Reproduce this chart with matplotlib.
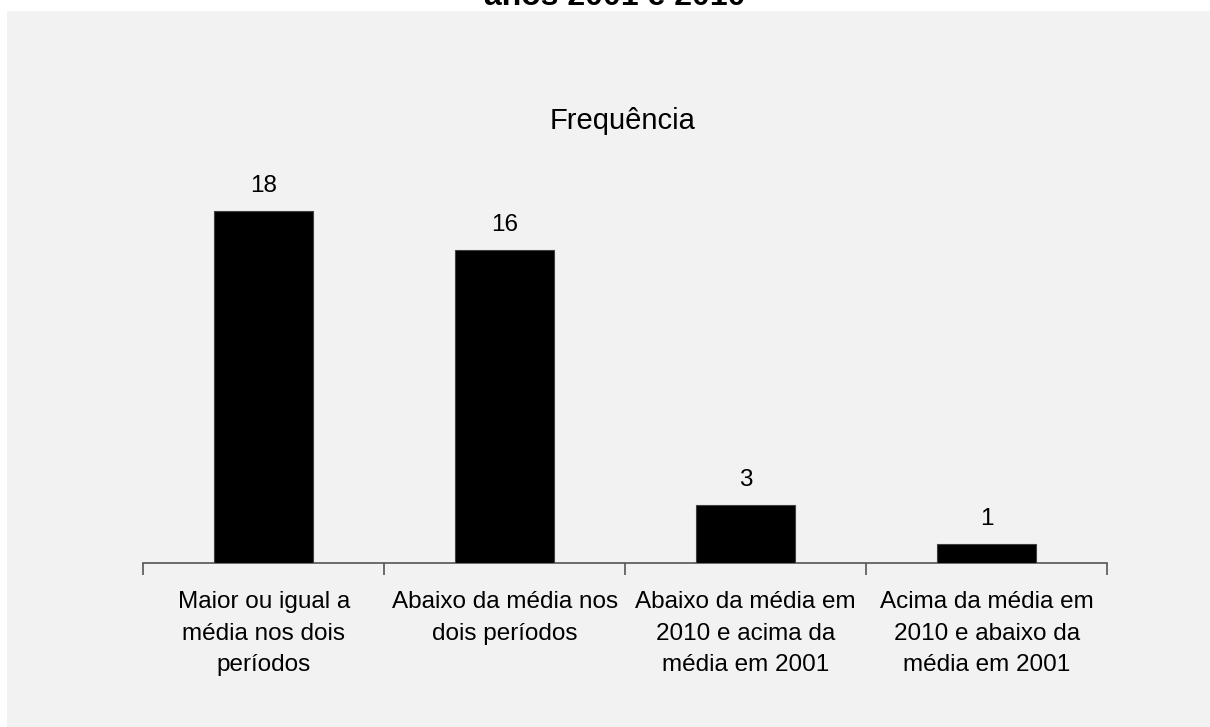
import matplotlib.pyplot as plt
from matplotlib.patches import Rectangle

# dados do gráfico
categorias = [
    "Maior ou igual a\nmédia nos dois\nperíodos",
    "Abaixo da média nos\ndois períodos",
    "Abaixo da média em\n2010 e acima da\nmédia em 2001",
    "Acima da média em\n2010 e abaixo da\nmédia em 2001",
]
frequencias = [18, 16, 3, 1]

titulo = "anos 2001 e 2010"
titulo_serie = "Frequência"

W, H = 1210, 727
plt.rcParams['font.family'] = ['Liberation Sans', 'DejaVu Sans']

fig = plt.figure(figsize=(W / 100, H / 100), dpi=100)
fig.patch.set_facecolor('white')

# painel cinza do gráfico
fig.patches.append(Rectangle((7 / W, 0), 1 - 7 / W, 1 - 11 / H,
                             transform=fig.transFigure, facecolor='#f2f2f2',
                             edgecolor='none', zorder=-5))

ax = fig.add_axes([143.3 / W, 1 - 563.3 / H, 964 / W, 391.4 / H])
ax.set_facecolor('none')

pos = list(range(len(categorias)))
barras = ax.bar(pos, frequencias, width=0.41, color='black',
                edgecolor='#404040', linewidth=0.8, zorder=3)

for b, v in zip(barras, frequencias):
    ax.annotate(str(v), (b.get_x() + b.get_width() / 2, b.get_height()),
                xytext=(0, 13.5), textcoords='offset points',
                ha='center', va='baseline', fontsize=17.5, annotation_clip=False)

ax.set_xlim(-0.5, len(categorias) - 0.5)
ax.set_ylim(0, 20)

ax.set_xticks([p - 0.5 for p in pos] + [len(categorias) - 0.5])
ax.set_xticklabels([])
ax.set_xticks(pos, minor=True)
ax.set_xticklabels(categorias, minor=True, fontsize=17.5, linespacing=1.56)
ax.tick_params(axis='x', which='major', length=8.4, width=1.2, color='#555555', direction='out')
ax.tick_params(axis='x', which='minor', length=0, pad=20)
ax.set_yticks([])

for s in ['left', 'right', 'top']:
    ax.spines[s].set_visible(False)
ax.spines['bottom'].set_color('#555555')
ax.spines['bottom'].set_linewidth(1.2)

fig.text(623 / W, 1 - 129.3 / H, titulo_serie, ha='center', va='baseline', fontsize=21)
fig.text(614.6 / W, 1 - 5 / H, titulo, ha='center', va='baseline',
         fontsize=23, fontweight='bold')

fig.savefig('out.png', dpi=100)
